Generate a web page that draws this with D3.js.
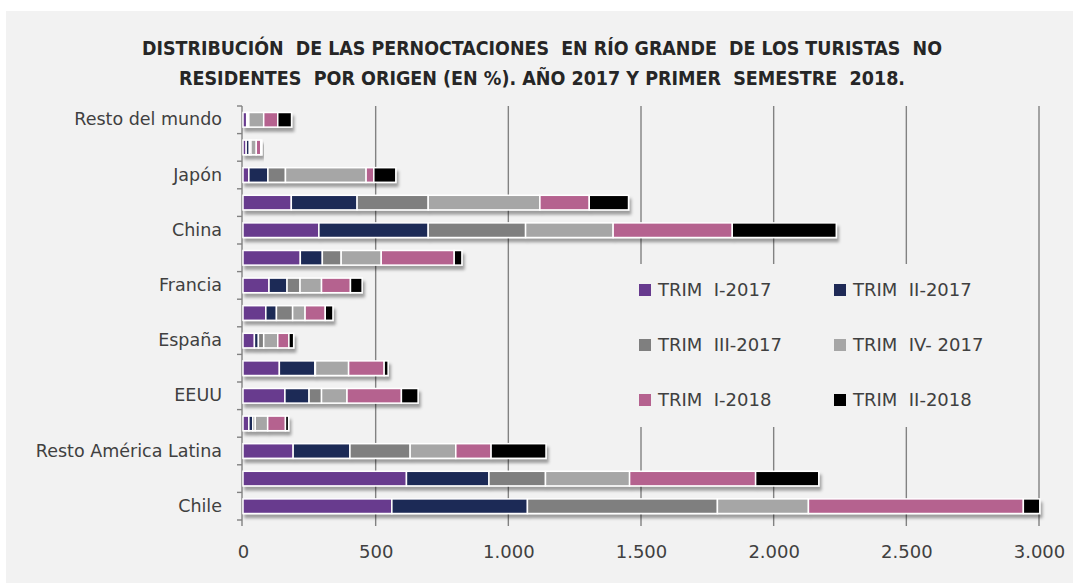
<!DOCTYPE html>
<html>
<head>
<meta charset="utf-8">
<script src="https://cdn.jsdelivr.net/npm/d3@7"></script>
<style>
  html, body { margin: 0; padding: 0; background: #ffffff; }
  svg { display: block; }
</style>
</head>
<body>
<svg id="chart" width="1073" height="583"></svg>
<script>
// categorías de arriba hacia abajo (sólo se rotula una de cada dos, como en el original)
const categories = ["Resto del mundo", "Resto de Asia", "Japón", "Corea del Sur", "China",
  "Resto de Europa", "Francia", "Alemania", "España", "Canadá", "EEUU", "México",
  "Resto América Latina", "Argentina", "Chile"];

const seriesNames = ["TRIM I-2017", "TRIM II-2017", "TRIM III-2017", "TRIM IV-2017", "TRIM I-2018", "TRIM II-2018"];
const legendLabels = ["TRIM  I-2017", "TRIM  II-2017", "TRIM  III-2017", "TRIM  IV- 2017", "TRIM  I-2018", "TRIM  II-2018"];
const seriesColors = ["#673a8e", "#1f2a56", "#7f7f7f", "#a6a6a6", "#b5628f", "#000000"];

const trim1_2017 = [14, 12, 22, 182, 286, 216, 98, 86, 43, 137, 158, 22, 189, 616, 561];
const trim2_2017 = [4, 12, 72, 248, 412, 83, 68, 40, 15, 134, 91, 15, 214, 311, 511];
const trim3_2017 = [4, 6, 66, 268, 367, 71, 49, 61, 20, 2, 47, 9, 227, 213, 716];
const trim4_2017 = [56, 20, 304, 421, 330, 151, 81, 47, 53, 125, 96, 47, 172, 317, 343];
const trim1_2018 = [53, 17, 29, 186, 449, 275, 109, 76, 42, 134, 205, 67, 133, 475, 810];
const trim2_2018 = [52, 4, 83, 148, 392, 29, 44, 29, 18, 15, 63, 12, 207, 238, 62];

const xTicks = [0, 500, 1000, 1500, 2000, 2500, 3000];

const titleLines = [
  "DISTRIBUCIÓN  DE LAS PERNOCTACIONES  EN RÍO GRANDE  DE LOS TURISTAS  NO",
  "RESIDENTES  POR ORIGEN (EN %). AÑO 2017 Y PRIMER  SEMESTRE  2018."
];

// tabla para d3.stack
const seriesValues = [trim1_2017, trim2_2017, trim3_2017, trim4_2017, trim1_2018, trim2_2018];
const table = categories.map((c, i) => {
  const row = { cat: c };
  seriesNames.forEach((s, k) => { row[s] = seriesValues[k][i]; });
  return row;
});

const svg = d3.select("#chart");
const bg = "#f2f2f2";

// sombra de las barras
const defs = svg.append("defs");
defs.append("filter").attr("id", "shadow")
  .attr("x", "-5%").attr("y", "-40%").attr("width", "115%").attr("height", "200%")
  .append("feDropShadow")
  .attr("dx", 2).attr("dy", 4).attr("stdDeviation", 1.4)
  .attr("flood-color", "#000").attr("flood-opacity", 0.35);

svg.append("rect").attr("x", 6).attr("y", 11).attr("width", 1067).attr("height", 572).attr("fill", bg);

// título
svg.append("g").selectAll("text")
  .data(titleLines)
  .enter().append("text")
  .attr("x", 542)
  .attr("y", (d, i) => 55 + i * 30)
  .attr("text-anchor", "middle")
  .attr("textLength", (d, i) => i === 0 ? 800 : 726)
  .attr("lengthAdjust", "spacingAndGlyphs")
  .style("font-family", "'DejaVu Sans Condensed', 'Liberation Sans Narrow', sans-serif")
  .style("font-weight", "bold")
  .style("font-size", "19px")
  .style("white-space", "pre")
  .style("fill", "#262626")
  .text(d => d);

// escalas
const x = d3.scaleLinear().domain([0, 3000]).range([243, 1039]);
const y = d3.scaleBand().domain(categories).range([106, 520]).paddingInner(0.47).paddingOuter(0.235);

const fmt = d3.formatLocale({ decimal: ",", thousands: ".", grouping: [3], currency: ["", ""] }).format(",");

// rejilla vertical
svg.append("g").selectAll("line")
  .data(xTicks.slice(1))
  .enter().append("line")
  .attr("x1", d => x(d)).attr("x2", d => x(d))
  .attr("y1", 106).attr("y2", 526)
  .attr("stroke", "#828282").attr("stroke-width", 1.4);

// eje y
const yAxis = svg.append("g")
  .attr("transform", `translate(${x(0) - 1},0)`)
  .call(d3.axisLeft(y).tickSize(0).tickPadding(20).tickFormat((d, i) => i % 2 === 0 ? d : ""));
yAxis.select(".domain").attr("stroke", "#828282").attr("stroke-width", 1.4).attr("d", "M0,106V526");
yAxis.selectAll("text")
  .style("font-family", "'DejaVu Sans', sans-serif")
  .style("font-size", "17.5px")
  .style("fill", "#404040");

// marcas entre categorías
const bounds = d3.range(categories.length + 1).map(i => y.range()[0] + i * y.step());
svg.append("g").selectAll("line")
  .data(bounds)
  .enter().append("line")
  .attr("x1", x(0) - 6).attr("x2", x(0) - 1)
  .attr("y1", d => d).attr("y2", d => d)
  .attr("stroke", "#828282").attr("stroke-width", 1.4);

// eje x (sólo etiquetas)
const xAxis = svg.append("g")
  .attr("transform", "translate(0,526)")
  .call(d3.axisBottom(x).tickValues(xTicks).tickSize(0).tickPadding(19).tickFormat(fmt));
xAxis.select(".domain").remove();
xAxis.selectAll("text")
  .style("font-family", "'DejaVu Sans', sans-serif")
  .style("font-size", "18px")
  .style("fill", "#404040");

// barras apiladas
const stacked = d3.stack().keys(seriesNames)(table);
const byCat = categories.map((c, i) => stacked.map((s, k) => ({ key: s.key, k: k, x0: s[i][0], x1: s[i][1], cat: c })));

const rows = svg.append("g").selectAll("g")
  .data(byCat)
  .enter().append("g")
  .attr("filter", "url(#shadow)");

rows.selectAll("rect")
  .data(d => d.filter(p => p.x1 > p.x0))
  .enter().append("rect")
  .attr("x", d => x(d.x0))
  .attr("y", d => y(d.cat))
  .attr("width", d => x(d.x1) - x(d.x0))
  .attr("height", y.bandwidth())
  .attr("fill", d => seriesColors[d.k])
  .attr("stroke", "#ffffff")
  .attr("stroke-width", 1.5);

// leyenda
svg.append("rect").attr("x", 625).attr("y", 264).attr("width", 378).attr("height", 163).attr("fill", bg);

const legend = svg.append("g").selectAll("g")
  .data(seriesNames)
  .enter().append("g")
  .attr("transform", (d, i) => `translate(${i % 2 === 0 ? 639 : 834},${290 + Math.floor(i / 2) * 55})`);

legend.append("rect")
  .attr("x", 0).attr("y", -6)
  .attr("width", 12).attr("height", 12)
  .attr("fill", (d, i) => seriesColors[i]);

legend.append("text")
  .attr("x", 19).attr("y", 0)
  .attr("dy", "0.36em")
  .style("font-family", "'DejaVu Sans', sans-serif")
  .style("font-size", "18px")
  .style("fill", "#404040")
  .style("white-space", "pre")
  .text((d, i) => legendLabels[i]);
</script>
</body>
</html>
